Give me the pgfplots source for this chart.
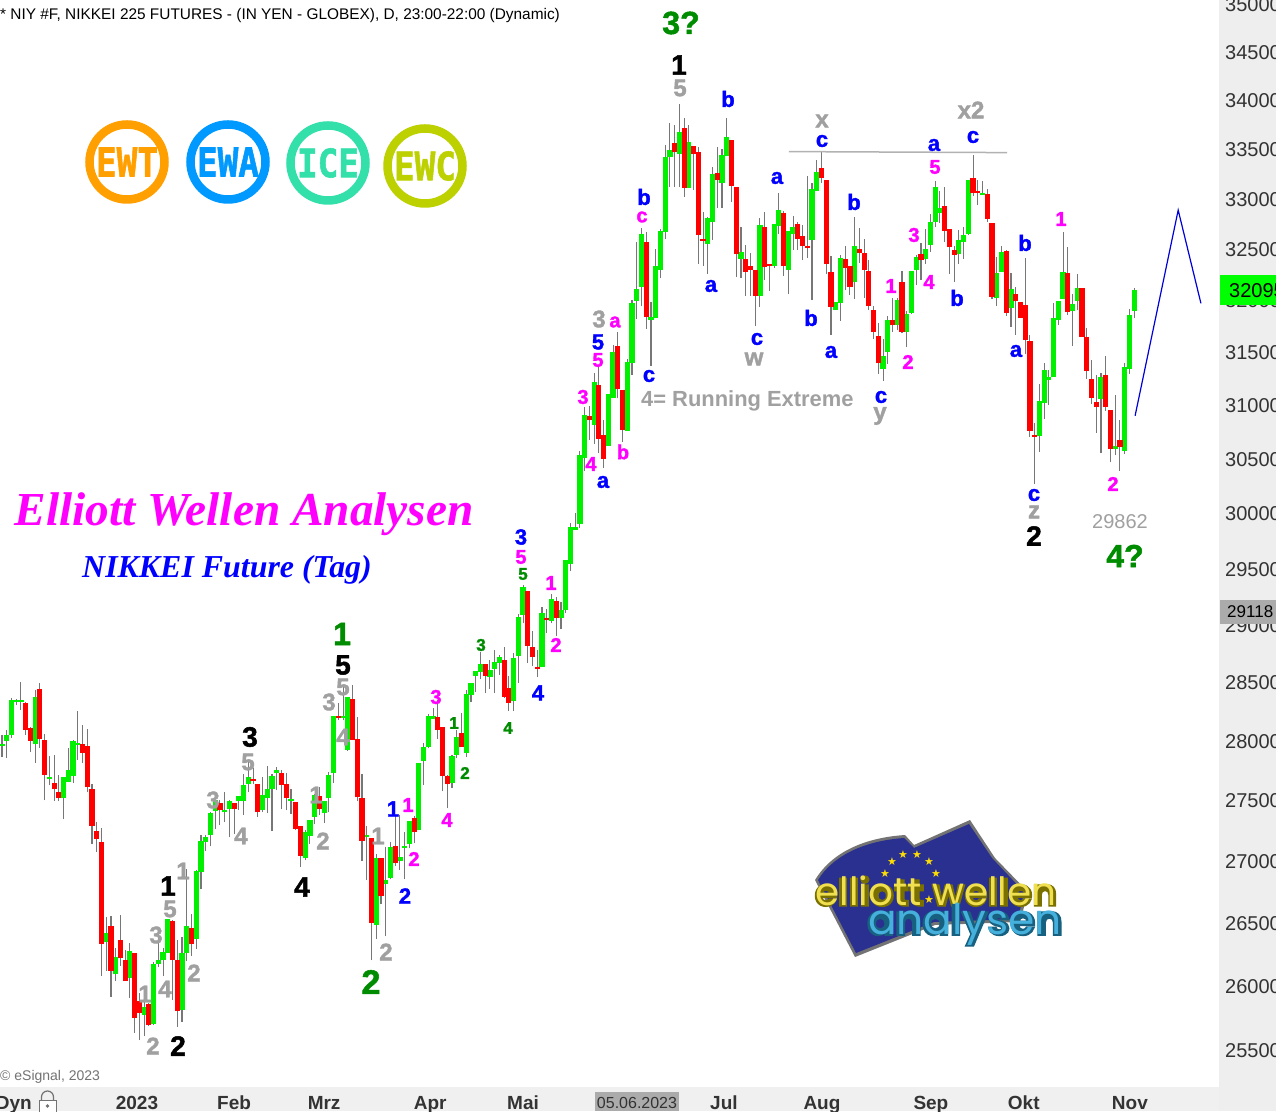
\documentclass[border=0pt]{standalone}
\usepackage{pgfplots}
\usepackage{pgfplotstable}
\usepackage{fontspec}
\pgfplotsset{compat=1.18}
\setmainfont{Liberation Sans}
\newfontfamily\heavy{Liberation Sans}[BoldFeatures={FakeBold=1.6}]
\newfontfamily\tnr{Liberation Serif}
\newfontfamily\dvs{DejaVu Sans}
\newfontfamily\dvm{DejaVu Sans Mono}[BoldFeatures={FakeBold=1.5}]
\newfontfamily\pop{Poppins}
\newfontfamily\popo{Poppins}[BoldFeatures={FakeBold=4}]
\definecolor{cg}{HTML}{00F000}
\definecolor{cr}{HTML}{FF0000}
\definecolor{wick}{HTML}{777777}
\definecolor{dg}{HTML}{008C00}
\definecolor{bl}{HTML}{0000FF}
\definecolor{mg}{HTML}{FF00FF}
\definecolor{gy}{HTML}{A0A0A0}
\definecolor{tx}{HTML}{333333}
\definecolor{ring1}{HTML}{FF9F00}
\definecolor{ring2}{HTML}{0099FF}
\definecolor{ring3}{HTML}{33E0AA}
\definecolor{ring4}{HTML}{BDD000}
\definecolor{flagblue}{HTML}{2A3090}
\definecolor{logoyel}{HTML}{F0E050}
\definecolor{logoyd}{HTML}{7A7000}
\definecolor{logocy}{HTML}{45B0DC}
\definecolor{logocd}{HTML}{17607F}

% x = bar index, wl/wh = wick low/high, bb/bt = body bottom/top
\pgfplotstableread{
x wl bb bt wh
0 27871 27963 27978 28054
1 27862 28003 28054 28097
2 28031 28054 28354 28369
3 28311 28337 28354 28360
4 28269 28337 28354 28506
7 27820 27978 28380 28440
10 27632 27683 27699 27876
13 27349 27522 27699 27702
14 27657 27657 27758 27944
15 27649 27708 28003 28011
16 27843 27969 27986 28260
22 26119 26349 26421 26551
24 26040 26095 26230 26302
27 25906 26063 26278 26339
30 25609 25773 25836 25943
32 25695 25703 26175 26193
33 26151 26175 26206 26444
34 26079 26206 26270 26302
35 26259 26262 26532 26538
38 25719 25812 26262 26392
39 26198 26262 26476 26935
41 26294 26373 26922 26930
42 26776 26914 27168 27217
43 27085 27159 27201 27217
44 27126 27217 27398 27407
45 27267 27415 27506 27506
47 27324 27407 27423 27576
48 27201 27431 27497 27506
50 27423 27497 27539 27539
51 27382 27497 27632 27730
52 27573 27640 27699 27843
55 27407 27423 27548 27699
56 27398 27522 27598 27792
57 27250 27598 27708 27730
58 27590 27733 27758 27786
61 27390 27497 27514 27598
64 27011 27027 27242 27258
65 27143 27209 27341 27341
66 27308 27365 27548 27562
68 27316 27398 27497 27497
69 27407 27522 27716 27744
70 27649 27733 28217 28217
72 28183 28200 28217 28483
73 27919 27927 28380 28383
77 26849 27201 27217 27291
79 26373 26484 27027 27060
81 26397 26816 26849 27121
82 26857 26863 27118 27159
84 26930 27003 27036 27382
85 26854 27110 27126 27242
86 27107 27143 27332 27332
88 27258 27258 27817 27817
89 27632 27834 27952 27986
90 27941 27952 28217 28234
91 28191 28191 28217 28286
95 27607 27649 27876 27885
96 27860 27885 28037 28097
98 27868 27902 28406 28440
99 28337 28397 28500 28500
100 28423 28561 28604 28604
101 28535 28596 28665 28770
103 28449 28552 28613 28700
104 28414 28622 28683 28787
105 28570 28674 28726 28743
108 28260 28346 28717 28758
109 28500 28735 29075 29101
110 29019 29093 29341 29358
114 28639 28639 29111 29164
116 29022 29040 29235 29279
118 28970 29066 29137 29208
119 29111 29137 29581 29581
120 29482 29545 29880 29916
121 29852 29852 29880 30006
122 29870 29907 30538 30575
123 30392 30511 30912 30989
125 30640 30818 31222 31304
128 30623 30623 31109 31109
129 31068 31071 31506 31574
132 30762 30762 31412 31437
133 31289 31403 31978 32007
134 31824 31997 32114 32576
135 31949 32134 32655 32715
137 31374 31814 31843 31987
138 31833 31833 32340 32507
139 32219 32301 32685 32702
140 32606 32675 33426 33548
141 33126 33426 33497 33772
143 33126 33456 33680 33966
145 33113 33113 33578 33752
149 32262 32556 32813 32826
150 32596 32774 33255 33322
152 32913 33165 33446 33507
153 33436 33436 33629 33823
156 32219 32408 32477 32725
160 31939 32046 32744 32813
163 32320 32340 32754 32754
164 32655 32734 32893 33063
166 32065 32301 32685 32685
167 32497 32655 32725 32833
171 32007 32596 33103 33160
172 33083 33083 33275 33394
176 31913 31913 31987 31987
177 31805 31978 32418 32448
180 32016 32183 32536 32823
186 31232 31345 31468 31628
187 31393 31506 31814 31853
189 31718 31766 32007 32023
191 31555 31699 31872 31901
192 31872 31881 32291 32291
193 32154 32301 32428 32448
195 32359 32408 32507 32705
196 32477 32546 32774 32854
197 32725 32774 33123 33183
198 32764 32864 32913 33083
202 32359 32458 32596 32695
203 32408 32576 32645 32725
204 32645 32655 33194 33194
207 33042 33042 33063 33183
210 31949 32026 32271 32428
211 32281 32281 32477 32536
213 31747 31929 32114 32268
219 30567 30716 31043 31204
220 30874 31024 31336 31402
221 31005 31242 31270 31336
222 31270 31270 31833 31978
223 31766 31814 31997 31997
224 32016 32016 32281 32673
226 31564 31901 31968 32065
227 31910 31997 32124 32261
232 30558 31061 31270 31308
235 30539 30595 30623 31100
237 30549 30577 31364 31402
238 31298 31345 31862 31920
239 31833 31901 32104 32124
}\greens

\pgfplotstableread{
x wl bb bt wh
5 28054 28100 28329 28340
6 27913 28003 28114 28126
8 27947 28020 28449 28497
9 27506 27716 28011 28063
11 27497 27598 27649 27885
12 27497 27522 27573 27716
17 27817 27902 27978 28140
18 27573 27615 27961 28106
19 27143 27291 27598 27640
20 27077 27184 27250 27324
21 26079 26333 27159 27275
23 25914 26119 26476 26557
25 26159 26222 26365 26565
26 26040 26040 26206 26286
28 25633 25750 26262 26262
29 25578 25789 25883 25943
31 25688 25695 25859 25865
36 25891 26206 26516 26530
37 25682 25805 26206 26365
40 26238 26333 26460 26573
46 27299 27423 27481 27506
49 27225 27431 27481 27481
53 27640 27666 27683 27772
54 27365 27407 27640 27640
59 27431 27632 27733 27758
60 27423 27522 27640 27733
62 27258 27267 27489 27489
63 26954 27044 27291 27291
67 27382 27434 27539 27618
71 28183 28200 28217 28326
74 28011 28011 28363 28483
75 27497 27531 28020 28209
76 27003 27168 27522 27725
78 26206 26500 27192 27192
80 26656 26721 27027 27027
83 26962 26986 27126 27382
87 27148 27242 27357 27374
92 28020 28097 28209 28354
93 27581 27708 28123 28123
94 27440 27640 27708 27716
97 27952 27952 28071 28240
102 28414 28561 28665 28665
106 28371 28380 28700 28813
107 28260 28329 28457 28561
111 28674 28822 29305 29305
112 28648 28726 28813 28952
113 28552 28622 28639 28787
115 28935 29048 29066 29146
117 28909 29066 29217 29252
124 30677 30865 30902 30995
126 30555 30687 31194 31383
127 30419 30502 30725 30865
130 31068 31156 31563 31702
131 30660 30769 31147 31147
136 31728 31843 32576 32675
142 33126 33476 33568 33752
144 33022 33113 33721 33823
146 33093 33456 33537 33537
147 32360 32645 33476 33530
148 32340 32586 32606 32875
151 32913 33195 33265 33527
154 32972 33133 33599 33599
155 32232 32457 33123 33123
157 32046 32281 32408 32546
158 32046 32301 32340 32467
159 31756 32046 32301 32301
161 32203 32330 32725 32873
162 32095 32340 32360 32360
165 32242 32340 32863 32883
168 32497 32606 32754 32774
169 32399 32537 32635 32744
170 32418 32517 32537 33235
173 33165 33215 33315 33476
174 32262 32360 33195 33195
175 31670 31939 32281 32438
178 32105 32320 32408 32536
179 32056 32134 32340 32340
181 32366 32467 32507 32715
182 32026 32301 32467 32606
183 31910 31949 32291 32399
184 31631 31699 31910 31949
185 31301 31397 31660 31782
188 31699 31766 31814 32023
190 31689 31699 32183 32291
194 32203 32399 32458 32563
199 32576 32685 32933 33123
200 32261 32526 32705 32705
201 32183 32448 32497 32536
205 33032 33063 33214 33446
206 32942 33063 33083 33194
208 32774 32804 33052 33103
209 32016 32036 32764 32764
212 31853 31881 32487 32497
214 31670 31997 32065 32131
215 31830 31833 31987 31987
216 31487 31622 31958 32418
217 30706 30762 31612 31670
218 30272 30706 30725 30837
225 31862 31891 32271 32526
228 31651 31651 32124 32124
229 31251 31326 31651 31737
230 31014 31071 31251 31431
231 30748 30986 31033 31289
233 30949 30986 31289 31468
234 30474 30595 30958 30958
236 30392 30613 30679 30865
}\reds

% the price scale of the chart is logarithmic
\newcommand\pricescale[1]{\begingroup
  \pgfkeys{/pgf/fpu=true,/pgf/fpu/output format=fixed}%
  \pgfmathparse{3300*ln(#1/25000)}\global\let\pxres\pgfmathresult\endgroup
  \let\pgfmathresult\pxres}

% one vertical segment per table row, from column #2 to column #3
\newcommand\segments[4]{%
  \pgfplotstablegetrowsof{#1}\pgfmathtruncatemacro\nrows{\pgfplotsretval-1}%
  \pgfplotsforeachungrouped \i in {0,...,\nrows}{%
    \pgfplotstablegetelem{\i}{x}\of{#1}\let\vx\pgfplotsretval
    \pgfplotstablegetelem{\i}{#2}\of{#1}\let\vlo\pgfplotsretval
    \pgfplotstablegetelem{\i}{#3}\of{#1}\let\vhi\pgfplotsretval
    \edef\temp{\noexpand\addplot[#4,forget plot,mark=none] coordinates {(\vx,\vlo)(\vx,\vhi)};}\temp
  }}

% L{x}{y}{colour}{size}{text}: bold wave label, y in pixels from the top
\newcommand\Lb[5]{\node[inner sep=0pt,text=#3,font=\heavy\fontsize{#4}{#4}\selectfont\bfseries] at (#1,#2) {#5};}
\newcommand\Ring[4]{%
  \draw[#4,line width=8.5pt] (#1,#2) circle (37.5);
  \node[inner sep=0pt,text=#4] at (#1,#2) {\resizebox{62pt}{29pt}{\dvm\bfseries #3}};}

\begin{document}
\begin{tikzpicture}
\path[use as bounding box] (0,0) rectangle (1276pt,1111pt);
\clip (0,0) rectangle (1276pt,1111pt);
\fill[white] (0,0) rectangle (1276pt,1111pt);
\fill[black!6.5] (1219pt,0) rectangle (1276pt,1111pt);
\fill[black!6] (0,0) rectangle (1219pt,24pt);
\begin{axis}[
  at={(0,0)},anchor=south west,
  scale only axis,width=1276pt,height=1111pt,
  y coord trafo/.code={\pricescale{#1}},
  xmin=-0.422,xmax=268.95,ymin=25034,ymax=35053,
  axis line style={draw=none},
  major tick length=0pt,minor tick length=0pt,
  ytick={25500,26000,26500,27000,27500,28000,28500,29000,29500,30000,30500,31000,31500,32000,32500,33000,33500,34000,34500,35000},
  yticklabels={25500,26000,26500,27000,27500,28000,28500,29000,29500,30000,30500,31000,31500,32000,32500,33000,33500,34000,34500,35000},
  yticklabel pos=right,
  yticklabel style={anchor=west,xshift=-51pt,text=tx,font=\fontsize{20}{20}\selectfont,inner sep=0pt},
  xtick={28.5,49,68,90.4,110,152.4,173.1,196.1,215.7,238.1},
  xticklabels={2023,Feb,Mrz,Apr,Mai,Jul,Aug,Sep,Okt,Nov},
  xticklabel style={anchor=base,yshift=2pt,text=tx,font=\fontsize{19}{19}\selectfont\bfseries,inner sep=0pt},
]
\segments{\greens}{wl}{wh}{wick,line width=1.1pt}
\segments{\reds}{wl}{wh}{wick,line width=1.1pt}
\segments{\greens}{bb}{bt}{cg,line width=5.2pt}
\segments{\reds}{bb}{bt}{cr,line width=5.2pt}
% projected path and neckline
\addplot[blue!85!black,line width=1.2pt,forget plot,mark=none] coordinates {(239.2,30903) (248.3,32891) (253.1,31975)};
\addplot[black!30,line width=1.5pt,forget plot,mark=none] coordinates {(166.1,33480) (212.2,33470)};
\end{axis}

\begin{scope}[x=1pt,y=-1pt,yshift=1111pt]
% price boxes
\fill[green] (1220,275) rectangle (1276,305);
\node[anchor=west,inner sep=0pt,font=\fontsize{20}{20}\selectfont] at (1229,291) {32095};
\fill[black!33] (1220,600) rectangle (1276,624);
\node[anchor=west,inner sep=0pt,font=\fontsize{17}{17}\selectfont] at (1227,612) {29118};
\fill[black!33] (595,1092) rectangle (679,1111);
\node[inner sep=0pt,font=\fontsize{16}{16}\selectfont,text=tx] at (637,1103) {05.06.2023};
% header, footer
\node[anchor=west,inner sep=0pt,font=\fontsize{15.4}{15.4}\selectfont] at (0,16) {* NIY \#F, NIKKEI 225 FUTURES - (IN YEN - GLOBEX), D, 23:00-22:00 (Dynamic)};
\node[anchor=west,inner sep=0pt,text=black!55,font=\fontsize{14}{14}\selectfont] at (0,1077) {© eSignal, 2023};
\node[anchor=base east,inner sep=0pt,text=tx,font=\fontsize{19}{19}\selectfont\bfseries] at (32,1109) {Dyn};
\draw[black!55,line width=1pt,fill=white] (39,1100) rectangle (56,1113);
\draw[black!55,line width=1.2pt] (41.5,1100) -- (41.5,1097) arc[start angle=180,end angle=0,x radius=6,y radius=-6] -- (53.5,1100);
\fill[black!55] (47.5,1106) circle (1.8);
% logos
\Ring{127}{162}{EWT}{ring1}
\Ring{228}{162}{EWA}{ring2}
\Ring{328}{163}{ICE}{ring3}
\Ring{425}{166}{EWC}{ring4}
% headings
\node[inner sep=0pt,text=mg,font=\tnr\fontsize{47.3}{47.3}\selectfont\bfseries\itshape] at (244,514) {Elliott Wellen Analysen};
\node[inner sep=0pt,text=bl,font=\tnr\fontsize{31.9}{31.9}\selectfont\bfseries\itshape] at (227,570) {NIKKEI Future (Tag)};
% dark green
\Lb{681}{23}{dg}{32}{3?}\Lb{342}{634}{dg}{32}{1}\Lb{371}{982}{dg}{34}{2}\Lb{1125}{556}{dg}{32}{4?}
% black
\Lb{679}{65}{black}{28}{1}\Lb{343}{665}{black}{28}{5}\Lb{250}{737}{black}{28}{3}\Lb{168}{886}{black}{28}{1}
\Lb{302}{887}{black}{28}{4}\Lb{178}{1046}{black}{28}{2}\Lb{1034}{536}{black}{28}{2}
% grey
\foreach \x/\y/\t in {680/88/5,822/121/x,971/110/x2,754/359/w,880/416/y,1034/512/z,599/319/3,248/762/5,213/800/3,241/836/4,323/841/2,316/795/1,343/737/4,343/687/5,329/702/3,378/836/1,386/952/2,170/909/5,183/871/1,156/935/3,165/989/4,194/973/2,145/994/1,153/1046/2}
  {\Lb{\x}{\y}{gy}{24}{\t}}
\node[anchor=west,inner sep=0pt,text=gy,font=\fontsize{21.9}{21.9}\selectfont\bfseries] at (641,401) {4= Running Extreme};
\node[inner sep=0pt,text=gy,font=\fontsize{20}{20}\selectfont] at (1120,522) {29862};
% blue
\foreach \x/\y/\t in {728/99/b,822/141/c,777/178/a,854/202/b,644/197/b,757/339/c,711/286/a,811/318/b,831/352/a,649/376/c,598/342/5,934/145/a,973/137/c,881/397/c,957/298/b,1025/243/b,1016/351/a,1034/495/c,603/482/a,521/537/3,538/693/4,405/896/2,393/809/1}
  {\Lb{\x}{\y}{bl}{22}{\t}}
% magenta
\foreach \x/\y/\t in {642/217/c,615/322/a,598/360/5,583/397/3,591/464/4,623/452/b,521/557/5,551/583/1,556/645/2,436/697/3,408/805/1,414/859/2,447/820/4,935/167/5,914/235/3,929/282/4,891/286/1,908/362/2,1061/219/1,1113/484/2}
  {\Lb{\x}{\y}{mg}{20}{\t}}
% small green
\foreach \x/\y/\t in {523/574/5,481/645/3,454/723/1,465/773/2,508/728/4}
  {\Lb{\x}{\y}{dg}{17}{\t}}
% flag logo
\fill[black!55] (815,880) .. controls (830,855) and (860,838) .. (905,835) -- (914,845) -- (970,820) -- (995,858) -- (1028,892) -- (1020,922) -- (935,925) -- (855,957) -- cycle;
\fill[flagblue] (818,880) .. controls (832,857) and (862,841) .. (904,838) -- (914,848) -- (969,824) -- (992,858) -- (1024,892) -- (1018,919) -- (934,922) -- (856,953) -- cycle;
\foreach \x/\y in {892/862,903/855,917/855,929/862,936/874,929/900,885/874}
  {\node[inner sep=0pt,text=yellow!80!orange,font=\dvs\fontsize{11}{11}\selectfont] at (\x,\y) {★};}
\node[anchor=base,inner sep=0pt,text=logoyd] at (936,906) {\resizebox{243pt}{!}{\popo\bfseries elliott wellen}};
\node[anchor=base,inner sep=0pt,text=logoyel] at (936,906) {\resizebox{241pt}{!}{\pop elliott wellen}};
\node[anchor=base,inner sep=0pt,text=logocd] at (965,935) {\resizebox{196pt}{!}{\popo\bfseries analysen}};
\node[anchor=base,inner sep=0pt,text=logocy] at (965,935) {\resizebox{194pt}{!}{\pop analysen}};
\end{scope}
\end{tikzpicture}
\end{document}
